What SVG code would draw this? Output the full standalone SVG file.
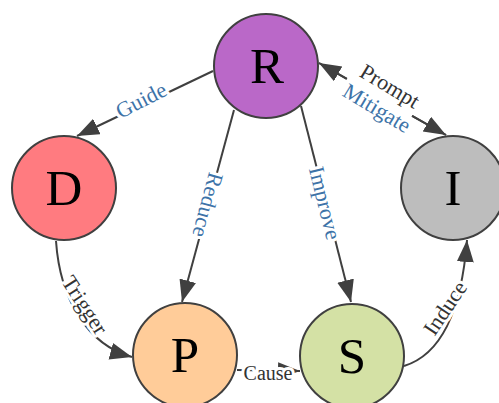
<svg xmlns="http://www.w3.org/2000/svg" width="499" height="403" viewBox="0 0 499 403">
<style>
.node circle{stroke:#404040;stroke-width:2}
.node text{font-family:"Liberation Serif","Times New Roman",serif;font-size:51px;fill:#000;text-anchor:middle}
.edge{fill:none;stroke:#404040;stroke-width:2}
.lbl{font-family:"Liberation Serif","Times New Roman",serif;font-size:22px;text-anchor:middle;dominant-baseline:central;stroke:#fff;stroke-width:6;stroke-linejoin:round;paint-order:stroke}
.dark{fill:#333}
.blue{fill:#3d73a8}
</style>
<defs>
<marker id="arr" markerUnits="userSpaceOnUse" markerWidth="24" markerHeight="18" refX="22" refY="8.5" orient="auto">
<path d="M0,0 L22,8.5 L0,17 z" fill="#404040"/>
</marker>
</defs>
<g id="connectors">
<path class="edge" d="M213 71 L77 136" marker-end="url(#arr)"/>
<path class="edge" d="M234 110 L182 302" marker-end="url(#arr)"/>
<path class="edge" d="M301 106 L351 302" marker-end="url(#arr)"/>
<path class="edge" d="M319 63 L446 135" stroke-dasharray="32 75 200" marker-end="url(#arr)"/>
<path class="edge" d="M446 135 L319 63" stroke-dasharray="39 75 200" marker-end="url(#arr)"/>
<path class="edge" d="M56 241 C60 300 88 345 132 357" marker-end="url(#arr)"/>
<path class="edge" d="M237 370 L300 371" marker-end="url(#arr)"/>
<path class="edge" d="M404 366 C430 358 460 330 467 240" marker-end="url(#arr)"/>
<text class="lbl blue" transform="translate(141,100) rotate(-27)">Guide</text>
<text class="lbl blue" transform="translate(208,205) rotate(105)">Reduce</text>
<text class="lbl blue" transform="translate(325,203) rotate(76)">Improve</text>
<text class="lbl dark" transform="translate(390,86) rotate(31)">Prompt</text>
<text class="lbl blue" transform="translate(377,108) rotate(31)">Mitigate</text>
<text class="lbl dark" transform="translate(85,305) rotate(57)">Trigger</text>
<text class="lbl dark" style="font-size:20px" transform="translate(268,373)">Cause</text>
<text class="lbl dark" transform="translate(445,308) rotate(-56)">Induce</text>
</g>
<g id="node-R" class="node"><circle cx="266" cy="66" r="52" fill="#ba68c8"/><text x="267" y="83">R</text></g>
<g id="node-D" class="node"><circle cx="64" cy="188" r="52" fill="#ff7b80"/><text x="64" y="205">D</text></g>
<g id="node-I" class="node"><circle cx="453" cy="188" r="52" fill="#bdbdbd"/><text x="453" y="205">I</text></g>
<g id="node-P" class="node"><circle cx="185" cy="355" r="52" fill="#ffcc99"/><text x="185" y="372">P</text></g>
<g id="node-S" class="node"><circle cx="352" cy="356" r="52" fill="#d4e1a5"/><text x="352" y="373">S</text></g>
</svg>
